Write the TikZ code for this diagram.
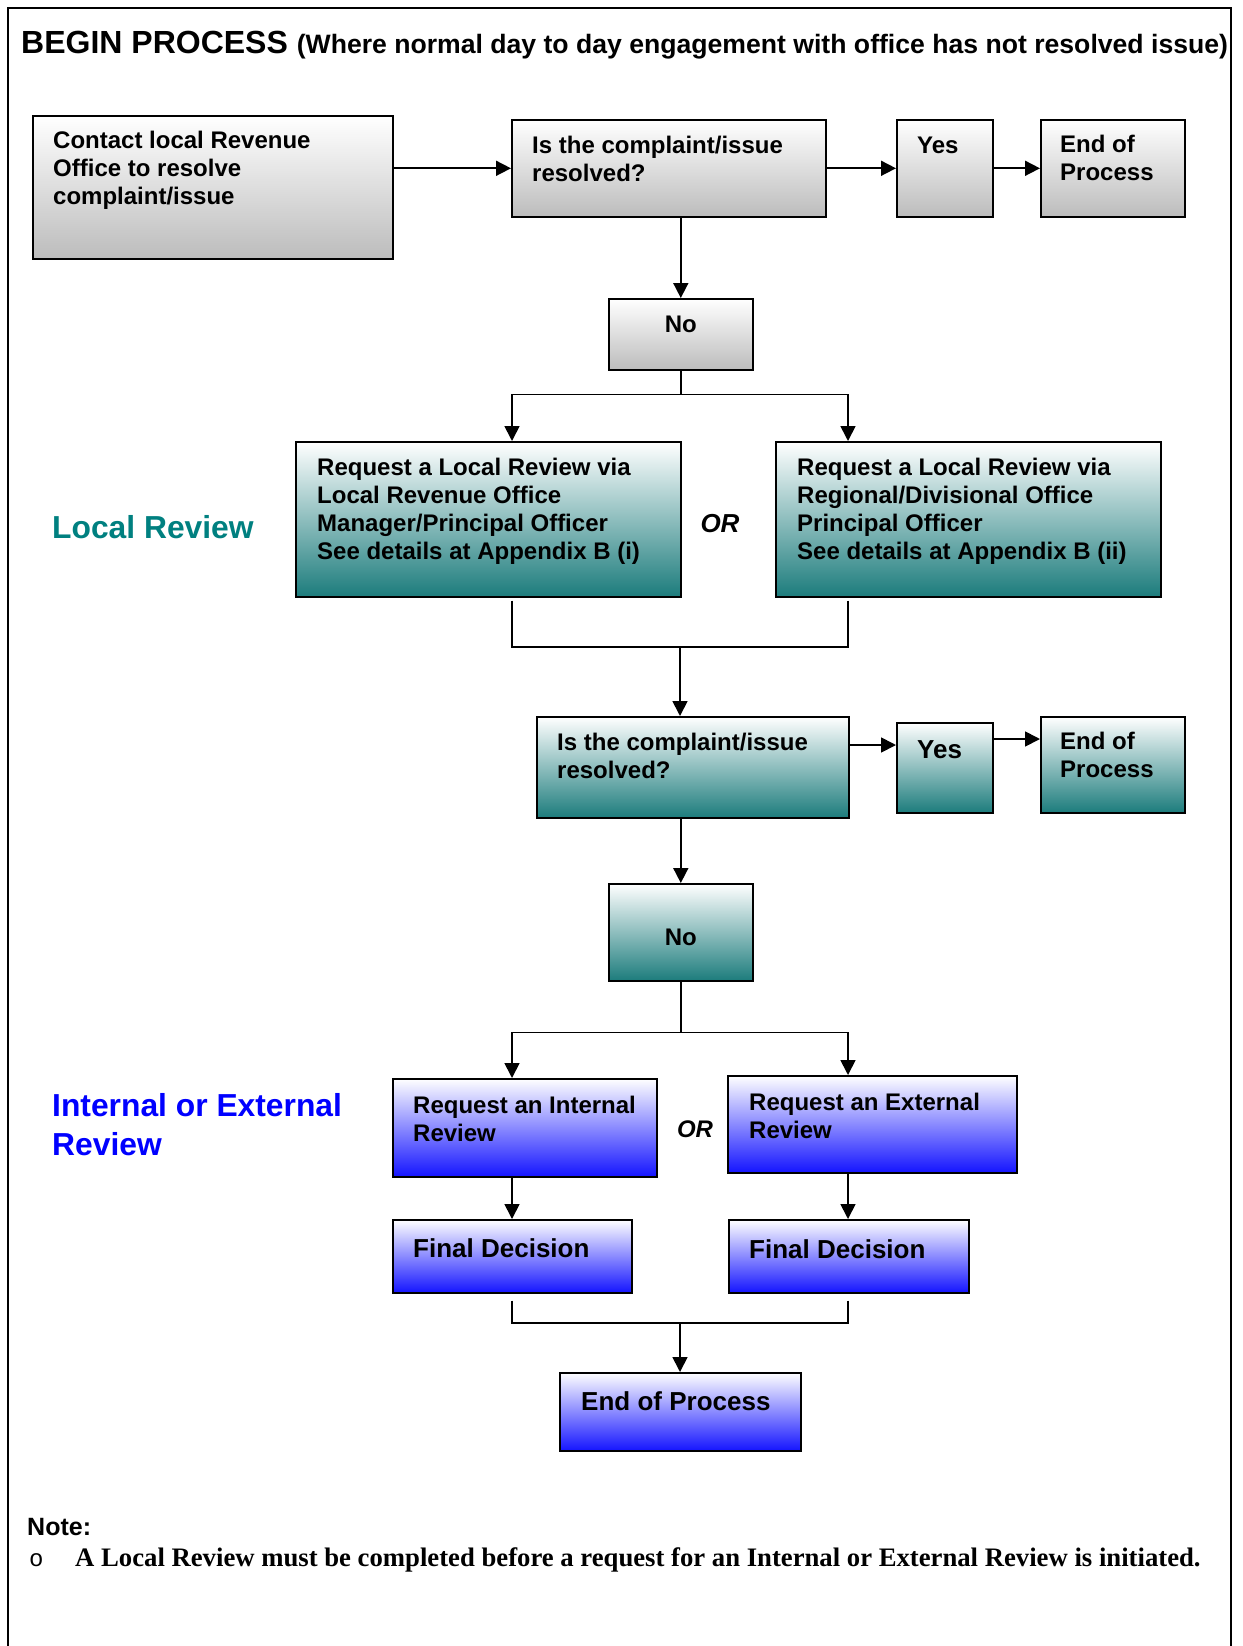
\documentclass[tikz,border=0pt]{standalone}
\usepackage{fontspec}
\setmainfont{Liberation Sans}
\newfontfamily\notefont{Liberation Serif}
\newfontfamily\bulletfont{Liberation Mono}
\usetikzlibrary{arrows.meta}

\definecolor{boxgrey}{RGB}{188,188,188}
\definecolor{boxteal}{RGB}{28,124,124}
\definecolor{boxblue}{RGB}{20,20,255}
\definecolor{labteal}{RGB}{0,128,128}
\definecolor{labblue}{RGB}{0,0,255}

\tikzset{
  stepbox/.style={draw, line width=1.6pt, inner sep=0pt, anchor=north west, top color=white},
  greybox/.style={stepbox, bottom color=boxgrey},
  tealbox/.style={stepbox, bottom color=boxteal},
  bluebox/.style={stepbox, bottom color=boxblue},
  boxtext/.style={anchor=base west, align=left, inner sep=0pt, font=\fontsize{24}{28}\selectfont\bfseries},
  bigtext/.style={boxtext, font=\fontsize{26}{30}\selectfont\bfseries},
  ortext/.style={inner sep=0pt, font=\fontsize{24}{28}\selectfont\bfseries\itshape},
  sectlab/.style={anchor=base west, inner sep=0pt, align=left, font=\fontsize{31.8}{39}\selectfont\bfseries},
  arr/.style={line width=1.7pt, -{Triangle[length=15pt,width=15pt]}},
  link/.style={line width=1.7pt},
}

\begin{document}
\begin{tikzpicture}[x=1pt,y=-1pt]
    \useasboundingbox (0,0) rectangle (1242,1646);
    \draw[line width=1.5pt] (8,1646) -- (8,8) -- (1231,8) -- (1231,1646);

    \node[anchor=base west, inner sep=0pt] (title) at (21,53) {\bfseries\fontsize{32}{36}\selectfont BEGIN PROCESS \fontsize{26.6}{30}\selectfont(Where normal day to day engagement with office has not resolved issue)};

    % columns of the branches
    \coordinate (colL) at (512,0);
    \coordinate (colR) at (848,0);

    % first contact
    \node[greybox, minimum width=360pt, minimum height=143pt] (b1) at (32,115) {};
    \node[boxtext] (b1t) at ([shift={(21,89)}]b1.north west) {Contact local Revenue\\Office to resolve\\complaint/issue};
    \node[greybox, minimum width=314pt, minimum height=97pt] (q1) at (511,119) {};
    \node[boxtext] (q1t) at ([shift={(21,62)}]q1.north west) {Is the complaint/issue\\resolved?};
    \node[greybox, minimum width=96pt, minimum height=97pt] (y1) at (896,119) {};
    \node[boxtext] (y1t) at ([shift={(21,34)}]y1.north west) {Yes};
    \node[greybox, minimum width=144pt, minimum height=97pt] (e1) at (1040,119) {};
    \node[boxtext] (e1t) at ([shift={(20,61)}]e1.north west) {End of\\Process};
    \node[greybox, minimum width=144pt, minimum height=71pt] (n1) at (608,298) {};
    \node[boxtext, anchor=center] (n1t) at ([yshift=10pt]n1.center) {No};

    \draw[arr] (q1.west -| b1.east) -- (q1.west);
    \draw[arr] (q1.east) -- (y1.west);
    \draw[arr] (y1.east) -- (e1.west);
    \draw[arr] (q1.south -| n1.north) -- (n1.north);

    % local review
    \node[sectlab, text=labteal] (lrlab) at (52,538) {Local Review};
    \node[tealbox, minimum width=385pt, minimum height=155pt] (lr1) at (295,441) {};
    \node[boxtext] (lr1t) at ([shift={(22,118)}]lr1.north west) {Request a Local Review via\\Local Revenue Office\\Manager/Principal Officer\\See details at Appendix B (i)};
    \node[ortext, font=\fontsize{26}{30}\selectfont\bfseries\itshape] (or1) at (720,524) {OR};
    \node[tealbox, minimum width=385pt, minimum height=155pt] (lr2) at (775,441) {};
    \node[boxtext] (lr2t) at ([shift={(22,118)}]lr2.north west) {Request a Local Review via\\Regional/Divisional Office\\Principal Officer\\See details at Appendix B (ii)};

    \coordinate (s1) at ([yshift=-24pt]n1.south);
    \draw[link] (n1.south) -- (s1);
    \draw[arr] (s1) -| (lr1.north -| colL);
    \draw[arr] (s1) -| (lr2.north -| colR);

    \node[tealbox, minimum width=312pt, minimum height=101pt] (q2) at (536,716) {};
    \node[boxtext] (q2t) at ([shift={(21,62)}]q2.north west) {Is the complaint/issue\\resolved?};
    \node[tealbox, minimum width=96pt, minimum height=90pt] (y2) at (896,722) {};
    \node[bigtext] (y2t) at ([shift={(21,36)}]y2.north west) {Yes};
    \node[tealbox, minimum width=144pt, minimum height=96pt] (e2) at (1040,716) {};
    \node[boxtext] (e2t) at ([shift={(20,61)}]e2.north west) {End of\\Process};
    \node[tealbox, minimum width=144pt, minimum height=97pt] (n2) at (608,883) {};
    \node[boxtext, anchor=center] (n2t) at ([yshift=-5pt]n2.center) {No};

    \coordinate (m1) at (680,647);
    \draw[link] ([yshift=-3pt]lr1.south -| colL) |- (m1);
    \draw[link] ([yshift=-3pt]lr2.south -| colR) |- (m1);
    \draw[arr] (m1) -- (m1 |- q2.north);
    \draw[arr] (q2.east |- 0,745) -- (y2.west |- 0,745);
    \draw[arr] (y2.east |- 0,739) -- (e2.west |- 0,739);
    \draw[arr] (q2.south -| n2.north) -- (n2.north);

    % internal or external review
    \node[sectlab, text=labblue] (ierlab) at (52,1155) {Internal or External\\Review};
    \node[bluebox, minimum width=264pt, minimum height=98pt] (ir) at (392,1078) {};
    \node[boxtext] (irt) at ([shift={(21,63)}]ir.north west) {Request an Internal\\Review};
    \node[ortext] (or2) at (695,1129) {OR};
    \node[bluebox, minimum width=289pt, minimum height=97pt] (er) at (727,1075) {};
    \node[boxtext] (ert) at ([shift={(22,63)}]er.north west) {Request an External\\Review};
    \node[bluebox, minimum width=239pt, minimum height=73pt] (fd1) at (392,1219) {};
    \node[bigtext] (fd1t) at ([shift={(21,38)}]fd1.north west) {Final Decision};
    \node[bluebox, minimum width=240pt, minimum height=73pt] (fd2) at (728,1219) {};
    \node[bigtext] (fd2t) at ([shift={(21,39)}]fd2.north west) {Final Decision};
    \node[bluebox, minimum width=241pt, minimum height=78pt] (end3) at (559,1372) {};
    \node[bigtext] (end3t) at ([shift={(22,38)}]end3.north west) {End of Process};

    \coordinate (s2) at ([yshift=-51pt]n2.south);
    \draw[link] (n2.south) -- (s2);
    \draw[arr] (s2) -| (ir.north -| colL);
    \draw[arr] (s2) -| (er.north -| colR);
    \draw[arr] (ir.south -| colL) -- (fd1.north -| colL);
    \draw[arr] (er.south -| colR) -- (fd2.north -| colR);

    \coordinate (m2) at (680,1323);
    \draw[link] ([yshift=-7pt]fd1.south -| colL) |- (m2);
    \draw[link] ([yshift=-7pt]fd2.south -| colR) |- (m2);
    \draw[arr] (m2) -- (m2 |- end3.north);

    % note
    \node[anchor=base west, inner sep=0pt, font=\fontsize{25}{30}\selectfont\bfseries] (note) at (27,1535) {Note:};
    \node[anchor=base west, inner sep=0pt, font=\bulletfont\fontsize{24}{30}\selectfont] (bul) at (29,1566) {o};
    \node[anchor=base west, inner sep=0pt, font=\notefont\fontsize{26.7}{30}\selectfont\bfseries] (notet) at (75,1566) {A Local Review must be completed before a request for an Internal or External Review is initiated.};
\end{tikzpicture}
\end{document}
